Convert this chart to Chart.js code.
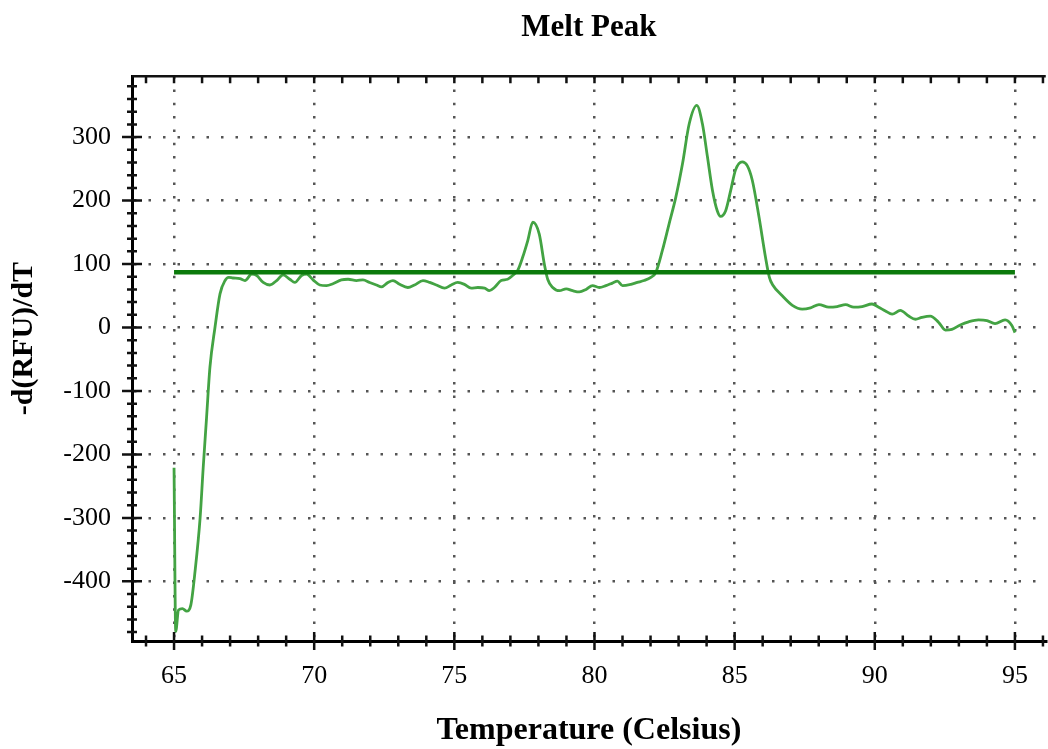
<!DOCTYPE html>
<html lang="en">
<head>
<meta charset="utf-8">
<script src="https://cdn.jsdelivr.net/npm/chart.js"></script>
<style>
  body { margin: 0; background: #fff; }
</style>
</head>
<body>
<canvas id="meltChart" width="1048" height="749"></canvas>

<script>
    // Melt curve
    const temps = [65.00, 65.06, 65.16, 65.30, 65.45, 65.60, 65.75, 65.93, 66.04, 66.16,
        66.28, 66.46, 66.64, 66.82, 66.95, 67.10, 67.35, 67.53, 67.77, 67.95,
        68.18, 68.42, 68.66, 68.89, 69.13, 69.31, 69.55, 69.73, 69.96, 70.20,
        70.44, 70.67, 70.97, 71.21, 71.51, 71.74, 71.98, 72.22, 72.40, 72.63,
        72.81, 73.05, 73.34, 73.58, 73.88, 74.12, 74.36, 74.65, 74.89, 75.12,
        75.36, 75.60, 75.84, 76.08, 76.25, 76.43, 76.67, 76.90, 77.08, 77.26,
        77.44, 77.62, 77.80, 78.03, 78.21, 78.33, 78.51, 78.75, 78.99, 79.22,
        79.46, 79.70, 79.93, 80.17, 80.41, 80.64, 80.82, 81.00, 81.30, 81.53,
        81.77, 82.01, 82.19, 82.42, 82.66, 82.90, 83.14, 83.38, 83.65, 83.85,
        84.03, 84.21, 84.38, 84.50, 84.68, 84.86, 85.03, 85.27, 85.45, 85.63,
        85.87, 86.10, 86.24, 86.36, 86.70, 87.06, 87.41, 87.71, 88.01, 88.36,
        88.66, 88.96, 89.25, 89.55, 89.90, 90.14, 90.38, 90.62, 90.91, 91.21,
        91.45, 91.68, 91.98, 92.28, 92.52, 92.75, 93.05, 93.35, 93.70, 94.00,
        94.29, 94.65, 94.89, 95.00];
    const meltValues = [-221, -479, -445, -443, -447, -437, -384, -300, -221, -142,
        -63, 0, 53, 74, 79, 78, 77, 74, 84, 82,
        71, 67, 74, 83, 76, 71, 82, 84, 75, 67,
        66, 69, 75, 76, 74, 75, 71, 67, 64, 71,
        74, 68, 63, 67, 74, 71, 67, 62, 67, 71,
        68, 62, 63, 62, 58, 63, 74, 76, 82, 90,
        111, 137, 166, 147, 100, 76, 63, 58, 61, 58,
        56, 60, 66, 63, 66, 70, 73, 66, 68, 71,
        74, 79, 87, 121, 163, 205, 258, 321, 350, 321,
        269, 216, 184, 175, 184, 216, 248, 261, 255, 232,
        174, 111, 79, 67, 50, 35, 29, 31, 36, 32,
        33, 36, 32, 33, 37, 32, 26, 21, 27, 18,
        13, 16, 18, 8, -4, -3, 4, 9, 12, 11,
        6, 12, 3, -8];

    // threshold line
    const thresholdTemps = [65, 95];
    const thresholdValue = 87;

    // axes
    const xTicks = [65, 70, 75, 80, 85, 90, 95];
    const yTicks = [-400, -300, -200, -100, 0, 100, 200, 300];
    const xRange = [63.5, 96.1];
    const yRange = [-494, 396];

    const serif = "'Liberation Serif', 'Times New Roman', serif";

    // frame on top, minor/major tick marks and the y title
    const frameTicks = {
        id: 'frameTicks',
        afterDraw(chart) {
            const { ctx, chartArea: a, scales: { x, y } } = chart;
            ctx.save();
            ctx.strokeStyle = '#111';
            ctx.lineWidth = 2.5;
            ctx.beginPath();
            ctx.moveTo(a.left, a.top);
            ctx.lineTo(a.right, a.top);
            for (let t = Math.ceil(x.min); t <= x.max; t++) {
                const px = x.getPixelForValue(t);
                const len = t % 5 === 0 ? 9 : 5.5;
                ctx.moveTo(px, a.bottom - len);
                ctx.lineTo(px, a.bottom + len);
                ctx.moveTo(px, a.top);
                ctx.lineTo(px, a.top + 7);
            }
            for (let v = Math.ceil(y.min / 20) * 20; v <= y.max; v += 20) {
                const py = y.getPixelForValue(v);
                const len = v % 100 === 0 ? 10 : 5;
                ctx.moveTo(a.left - len, py);
                ctx.lineTo(a.left + len, py);
            }
            ctx.stroke();

            // y axis title, sits a little above the middle as in the original
            ctx.translate(24, (a.top + a.bottom) / 2 - 20);
            ctx.rotate(-Math.PI / 2);
            ctx.fillStyle = '#000';
            ctx.font = 'bold 30px ' + serif;
            ctx.textAlign = 'center';
            ctx.textBaseline = 'middle';
            ctx.fillText('-d(RFU)/dT', 0, 0);
            ctx.restore();
        }
    };

    var ctx = document.getElementById('meltChart').getContext('2d');
    var meltChart = new Chart(ctx, {
        type: 'line',
        data: {
            datasets: [{
                label: 'Threshold',
                data: thresholdTemps.map(t => ({ x: t, y: thresholdValue })),
                borderColor: '#0b7a0b',
                borderWidth: 4.5,
                pointRadius: 0
            }, {
                label: 'Melt peak',
                data: temps.map((t, i) => ({ x: t, y: meltValues[i] })),
                borderColor: '#43a343',
                borderWidth: 2.8,
                pointRadius: 0,
                cubicInterpolationMode: 'monotone'
            }]
        },
        options: {
            responsive: false,
            animation: false,
            devicePixelRatio: 1,
            layout: { padding: 0 },
            plugins: {
                legend: { display: false },
                tooltip: { enabled: false },
                title: {
                    display: true,
                    text: 'Melt Peak',
                    fullSize: false,
                    color: '#000',
                    font: { family: serif, size: 31, weight: 'bold' },
                    padding: { top: 9, bottom: 30 }
                }
            },
            scales: {
                x: {
                    type: 'linear',
                    min: xRange[0],
                    max: xRange[1],
                    afterBuildTicks: s => { s.ticks = xTicks.map(v => ({ value: v })); },
                    afterFit: s => { s.height = 108; },
                    grid: { color: '#555', lineWidth: 2.5, drawTicks: false },
                    border: { color: '#000', width: 3, dash: [2.5, 10.8] },
                    ticks: {
                        color: '#000',
                        padding: 20,
                        maxRotation: 0,
                        font: { family: serif, size: 26 }
                    },
                    title: {
                        display: true,
                        text: 'Temperature (Celsius)',
                        color: '#000',
                        font: { family: serif, size: 32, weight: 'bold' },
                        padding: { top: 0, bottom: -1 }
                    }
                },
                y: {
                    type: 'linear',
                    min: yRange[0],
                    max: yRange[1],
                    afterBuildTicks: s => { s.ticks = yTicks.map(v => ({ value: v })); },
                    afterFit: s => { s.width = 132; },
                    grid: { color: '#555', lineWidth: 2.5, drawTicks: false },
                    border: { color: '#000', width: 3, dash: [2.5, 12] },
                    ticks: {
                        color: '#000',
                        padding: 21,
                        font: { family: serif, size: 26 }
                    }
                }
            }
        },
        plugins: [frameTicks]
    });
</script>
</body>
</html>
